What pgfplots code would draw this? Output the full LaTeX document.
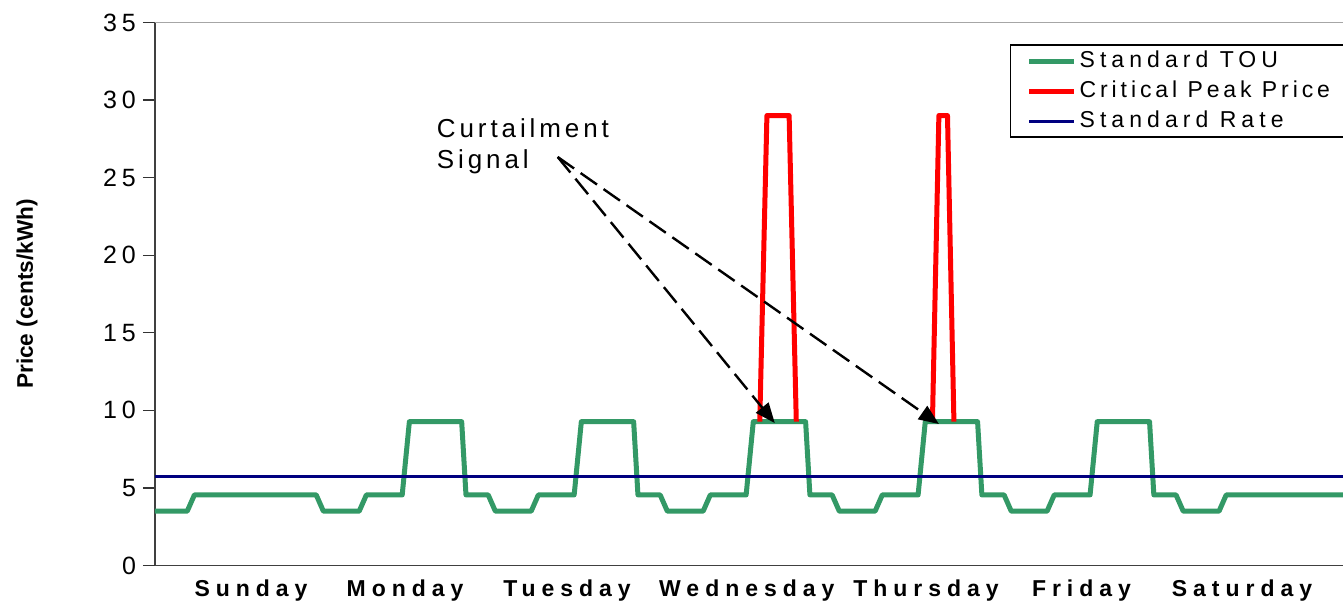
\documentclass[border=0pt]{standalone}
\usepackage{fontspec}
\setmainfont{Liberation Sans}
\newfontfamily\spaced[LetterSpace=20]{Liberation Sans}
\newfontfamily\legfont[LetterSpace=22]{Liberation Sans}
\newfontfamily\legfontb[LetterSpace=17]{Liberation Sans}
\newfontfamily\dayfont[LetterSpace=26]{Liberation Sans}
\newfontfamily\annfont[LetterSpace=15]{Liberation Sans}
\usepackage{pgfplots}
\pgfplotsset{compat=1.18}
\usetikzlibrary{arrows.meta}
\definecolor{touGreen}{RGB}{51,153,102}
\definecolor{cppRed}{RGB}{255,0,0}
\definecolor{rateNavy}{RGB}{0,0,128}

\pgfplotstableread{
x y
0 3.5
4.5 3.5
5.5 4.55
22.5 4.55
23.5 3.5
28.5 3.5
29.5 4.55
34.5 4.55
35.5 9.27
42.8 9.27
43.4 4.55
46.5 4.55
47.5 3.5
52.5 3.5
53.5 4.55
58.5 4.55
59.5 9.27
66.8 9.27
67.4 4.55
70.5 4.55
71.5 3.5
76.5 3.5
77.5 4.55
82.5 4.55
83.5 9.27
90.8 9.27
91.4 4.55
94.5 4.55
95.5 3.5
100.5 3.5
101.5 4.55
106.5 4.55
107.5 9.27
114.8 9.27
115.4 4.55
118.5 4.55
119.5 3.5
124.5 3.5
125.5 4.55
130.5 4.55
131.5 9.27
138.8 9.27
139.4 4.55
142.5 4.55
143.5 3.5
148.5 3.5
149.5 4.55
168 4.55
}\touTable

\pgfplotstableread{
x y
84.4 9.27
85.4 29
88.5 29
89.5 9.27
100 nan
108.5 9.27
109.4 29
110.6 29
111.5 9.27
}\cppTable

\pgfplotstableread{
x y
0 5.72
168 5.72
}\rateTable

\begin{document}
\begin{tikzpicture}
\begin{axis}[
  scale only axis, width=594pt, height=271.5pt,
  xmin=0, xmax=165.8, ymin=0, ymax=35,
  axis x line*=bottom, axis y line*=left,
  axis line style={black!75, line width=0.8pt},
  ytick={0,5,...,35},
  ytick style={black!80, line width=0.6pt},
  tick align=outside, major tick length=6pt,
  xtick={13.4,34.9,57.5,82.6,107.6,129.3,151.7},
  xticklabels={Sunday,Monday,Tuesday,Wednesday,Thursday,Friday,Saturday},
  xtick style={draw=none},
  xticklabel style={font=\dayfont\bfseries\fontsize{11.5}{14}\selectfont, anchor=base, yshift=-9.75pt},
  yticklabel style={font=\spaced\fontsize{12.5}{15}\selectfont},
  /pgf/number format/assume math mode=true,
  ylabel={Price (cents/kWh)},
  ylabel style={font=\bfseries\fontsize{11.3}{13}\selectfont, at={(axis description cs:-0.1077,0.5)}, anchor=center},
  unbounded coords=jump,
  legend cell align=left,
  legend image code/.code={\draw[#1] (0pt,0pt) -- (22.5pt,0pt);},
  legend style={at={(0.7197,0.9596)}, anchor=north west, draw=black, line width=0.6pt, fill=white,
    font=\legfont\fontsize{11.5}{14}\selectfont, inner xsep=8pt, inner ysep=0.5pt, row sep=0pt,
    nodes={inner xsep=1.5pt, inner ysep=1.75pt, text height=9pt, text depth=2.5pt}},
]
\addplot[touGreen, line width=2.5pt, line join=round] table[x=x,y=y] {\touTable};
\addlegendentry{Standard TOU}
\addplot[cppRed, line width=2.5pt, line join=round] table[x=x,y=y] {\cppTable};
\addlegendentry{\legfontb Critical Peak Price\hspace{12pt}}
\addplot[rateNavy, line width=1.5pt] table[x=x,y=y] {\rateTable};
\addlegendentry{Standard Rate}

\node[anchor=base west, font=\annfont\fontsize{13}{15}\selectfont, inner sep=0pt] at (axis cs:39.3,27.6) {Curtailment};
\node[anchor=base west, font=\annfont\fontsize{13}{15}\selectfont, inner sep=0pt] at (axis cs:39.3,25.6) {Signal};
\draw[black, line width=1.2pt, dash pattern=on 10pt off 4pt, -{Triangle[length=10pt,width=8pt]}] (axis cs:56.2,26.33) -- (axis cs:86.5,9.18);
\draw[black, line width=1.2pt, dash pattern=on 10pt off 4pt, -{Triangle[length=10pt,width=8pt]}] (axis cs:56.2,26.33) -- (axis cs:109.4,9.12);
\end{axis}
\draw[gray!70, line width=0.8pt] (current axis.north west) -- (current axis.north east);
\pgfresetboundingbox
\path[use as bounding box] ([shift={(-77.5pt,-18.25pt)}]current axis.south west) rectangle ([shift={(0pt,11.25pt)}]current axis.north east);
\end{tikzpicture}
\end{document}
